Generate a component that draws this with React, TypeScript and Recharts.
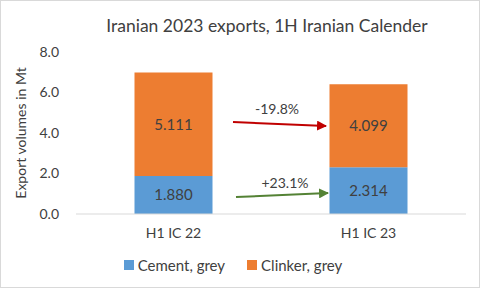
import React from "react"
import { BarChart, Bar, XAxis, YAxis, LabelList, Legend } from "recharts"

const categories = ["H1 IC 22", "H1 IC 23"]
const cement = [1.88, 2.314]
const clinker = [5.111, 4.099]
const yTicks = [0, 2, 4, 6, 8]
const seriesKeys = ["cement", "clinker"]
const seriesNames = ["Cement, grey", "Clinker, grey"]
const seriesColors = ["#5B9BD5", "#ED7D31"]

const FONT = "Lato, 'Open Sans', sans-serif"
const TEXT = "#404040"

const data = categories.map((name, i) => ({ name, cement: cement[i], clinker: clinker[i] }))

const pct = (a: number, b: number) => {
  const v = ((b - a) / a) * 100
  return `${v > 0 ? "+" : ""}${v.toFixed(1)}%`
}

// change annotations between the two periods (pixel placement only)
const arrows = [
  { label: pct(clinker[0], clinker[1]), color: "#C00000", x1: 233, y1: 122, x2: 326, y2: 126, lx: 277, ly: 108 },
  { label: pct(cement[0], cement[1]), color: "#548235", x1: 236, y1: 197, x2: 328, y2: 193, lx: 285, ly: 182 },
]

function LegendContent() {
  return (
    <div style={{ display: "flex", justifyContent: "center", gap: 22, fontFamily: FONT, fontSize: 15, color: TEXT }}>
      {seriesNames.map((n, i) => (
        <div key={n} style={{ display: "flex", alignItems: "center" }}>
          <span style={{ width: 10, height: 10, background: seriesColors[i], marginRight: 4, display: "inline-block" }} />
          <span>{n}</span>
        </div>
      ))}
    </div>
  )
}

export default function App() {
  return (
    <div style={{ position: "absolute", left: 0, top: 0, width: 480, height: 288, background: "#fff" }}>
      <div
        style={{
          position: "absolute",
          left: 0,
          top: 0,
          width: 480,
          height: 288,
          border: "1px solid #D9D9D9",
          boxSizing: "border-box",
        }}
      />
      <div
        style={{
          position: "absolute",
          left: 0,
          top: 15,
          width: 534,
          textAlign: "center",
          fontFamily: FONT,
          fontSize: 17.5,
          color: TEXT,
        }}
      >
        Iranian 2023 exports, 1H Iranian Calender
      </div>
      <BarChart
        width={480}
        height={288}
        data={data}
        margin={{ top: 52, right: 14, left: 0, bottom: 12 }}
        barCategoryGap="30%"
      >
        <XAxis
          dataKey="name"
          axisLine={{ stroke: "#D9D9D9" }}
          tickLine={false}
          tickSize={0}
          tickMargin={14}
          height={42}
          tick={{ fill: TEXT, fontSize: 14, fontFamily: FONT }}
        />
        <YAxis
          width={76}
          domain={[0, 8]}
          ticks={yTicks}
          tickFormatter={(v) => Number(v).toFixed(1)}
          axisLine={false}
          tickLine={false}
          tickSize={0}
          tickMargin={17}
          tick={{ fill: TEXT, fontSize: 14, fontFamily: FONT }}
          label={{
            content: (p: any) => {
              const vb = p.viewBox
              const cx = 20
              const cy = vb.y + vb.height / 2
              return (
                <text
                  x={cx}
                  y={cy}
                  transform={`rotate(-90 ${cx} ${cy})`}
                  textAnchor="middle"
                  dominantBaseline="central"
                  fill={TEXT}
                  fontSize={14}
                  fontFamily={FONT}
                >
                  Export volumes in Mt
                </text>
              )
            },
          }}
        />
        <Legend verticalAlign="bottom" height={20} content={<LegendContent />} />
        {seriesKeys.map((k, i) => (
          <Bar key={k} dataKey={k} name={seriesNames[i]} stackId="a" fill={seriesColors[i]} isAnimationActive={false}>
            <LabelList
              dataKey={k}
              position="center"
              formatter={(v: any) => Number(v).toFixed(3)}
              fill={TEXT}
              fontSize={15}
              fontFamily={FONT}
            />
          </Bar>
        ))}
      </BarChart>
      <svg width={480} height={288} style={{ position: "absolute", left: 0, top: 0, pointerEvents: "none" }}>
        <defs>
          {arrows.map((a, i) => (
            <marker
              key={i}
              id={`head${i}`}
              viewBox="0 0 10 10"
              refX="9"
              refY="5"
              markerWidth="5"
              markerHeight="5"
              orient="auto"
            >
              <path d="M0,0 L10,5 L0,10 z" fill={a.color} />
            </marker>
          ))}
        </defs>
        {arrows.map((a, i) => (
          <g key={i}>
            <line x1={a.x1} y1={a.y1} x2={a.x2} y2={a.y2} stroke={a.color} strokeWidth={2} markerEnd={`url(#head${i})`} />
            <text x={a.lx} y={a.ly} textAnchor="middle" dominantBaseline="central" fill={TEXT} fontSize={14} fontFamily={FONT}>
              {a.label}
            </text>
          </g>
        ))}
      </svg>
    </div>
  )
}
